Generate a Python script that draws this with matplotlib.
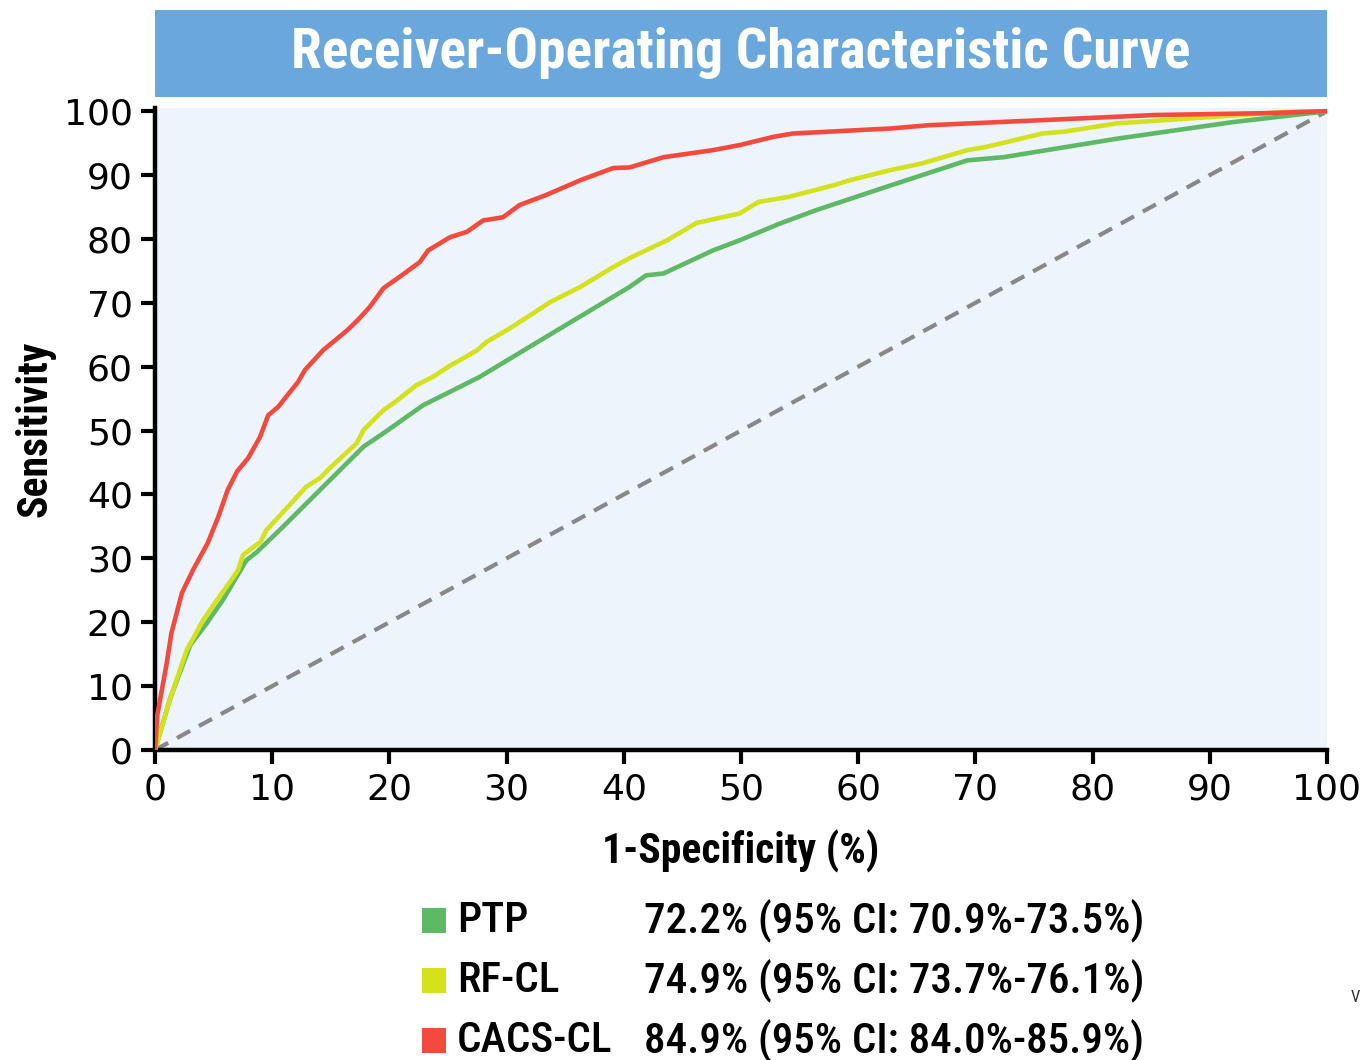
import matplotlib.pyplot as plt
from matplotlib import font_manager
from matplotlib.patches import Rectangle

# values (x = 1-specificity %, y = sensitivity %)
ptp_x = [0, 1.3, 3.0, 4.4, 5.8, 7.8, 8.7, 10.9, 13.8, 17.8, 19.5, 22.9, 25.2, 27.7,
         33.4, 40.5, 41.9, 43.4, 47.6, 49.9, 53.3, 56.4, 62.8, 69.3, 72.4, 82.1, 92.0, 100]
ptp_y = [0, 8.1, 16.4, 19.8, 23.5, 29.7, 31.0, 34.9, 40.2, 47.5, 49.6, 54.0, 56.1, 58.4,
         64.7, 72.5, 74.3, 74.6, 78.2, 79.8, 82.4, 84.5, 88.4, 92.3, 92.8, 95.7, 98.3, 100]

rfcl_x = [0, 1.3, 2.7, 4.1, 5.3, 6.4, 7.1, 7.5, 9.0, 9.5, 12.1, 12.9, 14.1, 14.9, 17.2,
          17.8, 18.5, 19.5, 20.5, 22.3, 23.7, 25.2, 26.0, 27.5, 28.3, 30.0, 32.3, 33.7,
          36.3, 39.1, 40.5, 43.7, 46.2, 49.9, 51.5, 54.1, 57.9, 59.3, 62.8, 65.4, 69.3,
          70.9, 75.7, 77.6, 82.1, 88.6, 96.6, 100]
rfcl_y = [0, 8.1, 15.6, 20.3, 23.5, 26.3, 28.2, 30.5, 32.6, 34.4, 39.6, 41.2, 42.6, 44.1, 48.0,
          50.1, 51.4, 53.2, 54.5, 57.1, 58.4, 60.2, 61.0, 62.6, 63.9, 65.7, 68.4, 70.1,
          72.5, 75.6, 77.0, 79.8, 82.5, 84.0, 85.8, 86.6, 88.4, 89.2, 90.8, 91.8, 93.9,
          94.4, 96.5, 96.8, 98.1, 98.9, 99.9, 100]

cacs_x = [0, 0.2, 0.43, 1.0, 1.4, 2.3, 3.25, 4.5, 5.4, 6.2, 7.0, 7.95, 8.96, 9.66, 10.5,
          12.2, 12.8, 14.35, 16.4, 17.3, 18.3, 19.5, 21.2, 22.6, 23.3, 25.2, 26.6, 28.0,
          29.7, 31.1, 33.4, 36.3, 39.1, 40.5, 43.4, 47.6, 49.9, 52.8, 54.4, 62.8, 66.0,
          75.7, 85.3, 95.0, 100]
cacs_y = [0, 5.5, 7.8, 13.6, 18.3, 24.6, 28.2, 32.4, 36.5, 40.7, 43.6, 45.7, 49.0, 52.4, 53.7,
          57.6, 59.5, 62.6, 65.7, 67.3, 69.3, 72.3, 74.5, 76.4, 78.2, 80.3, 81.1, 82.9,
          83.4, 85.3, 86.9, 89.2, 91.1, 91.2, 92.8, 93.9, 94.7, 96.0, 96.5, 97.3, 97.8,
          98.6, 99.4, 99.7, 100]

names = ["PTP", "RF-CL", "CACS-CL"]
auc_text = ["72.2% (95% CI: 70.9%-73.5%)",
            "74.9% (95% CI: 73.7%-76.1%)",
            "84.9% (95% CI: 84.0%-85.9%)"]
colors = ["#5DB963", "#D3E21B", "#F44A3E"]

ticks = list(range(0, 101, 10))

# pick a narrow face if one is installed
installed = {f.name for f in font_manager.fontManager.ttflist}
narrow = [f for f in ["Liberation Sans Narrow", "DejaVu Sans Condensed", "Roboto Condensed",
                      "Open Sans Condensed", "Roboto"] if f in installed] + ["DejaVu Sans"]
stretch = "condensed"

fig = plt.figure(figsize=(13.64, 10.60), dpi=100)

# title banner
fig.patches.append(Rectangle((155 / 1364, 1 - 97 / 1060), 1172 / 1364, 87 / 1060,
                             transform=fig.transFigure, facecolor="#69A7DD",
                             edgecolor="none", zorder=0))
fig.text(741 / 1364, 1 - 53 / 1060, "Receiver-Operating Characteristic Curve",
         ha="center", va="center", color="white", fontsize=40, fontweight="bold",
         family=narrow, fontstretch=stretch)

ax = fig.add_axes([155 / 1364, 1 - 750 / 1060, 1172 / 1364, 642 / 1060])
ax.set_facecolor("#EDF4FC")

ax.plot([0, 100], [0, 100], color="#888888", lw=3, dashes=(3.6, 2.4), zorder=2)
for xs, ys, c in zip([ptp_x, rfcl_x, cacs_x], [ptp_y, rfcl_y, cacs_y], colors):
    ax.plot(xs, ys, color=c, lw=3.3, solid_joinstyle="round", zorder=3)

ax.set_xlim(0, 100)
ax.set_ylim(0, 100.5)
ax.set_xticks(ticks)
ax.set_yticks(ticks)
ax.tick_params(length=10, width=3, labelsize=26, pad=6)
for lab in ax.get_xticklabels() + ax.get_yticklabels():
    lab.set_family("DejaVu Sans")
for s in ["top", "right"]:
    ax.spines[s].set_visible(False)
for s in ["left", "bottom"]:
    ax.spines[s].set_linewidth(3.2)

ax.set_xlabel("1-Specificity (%)", fontsize=30, fontweight="bold", family=narrow,
              fontstretch=stretch, labelpad=17)
ax.set_ylabel("Sensitivity", fontsize=30, fontweight="bold", family=narrow,
              fontstretch=stretch, labelpad=6)

# legend block
for i, (n, t, c) in enumerate(zip(names, auc_text, colors)):
    yc = 1 - (920 + 60 * i) / 1060
    fig.patches.append(Rectangle((422 / 1364, yc - 12.5 / 1060), 24 / 1364, 25 / 1060,
                                 transform=fig.transFigure, facecolor=c, edgecolor="none"))
    fig.text(457 / 1364, yc, n, ha="left", va="center", fontsize=31, family=narrow,
             fontstretch=stretch, fontweight="medium")
    fig.text(644 / 1364, yc, t, ha="left", va="center", fontsize=31, family=narrow,
             fontstretch=stretch, fontweight="medium")

fig.text(1351 / 1364, 1 - 998 / 1060, "V", ha="left", va="center", fontsize=12,
         family=narrow, color="#333333")

fig.savefig("out.png", dpi=100)
